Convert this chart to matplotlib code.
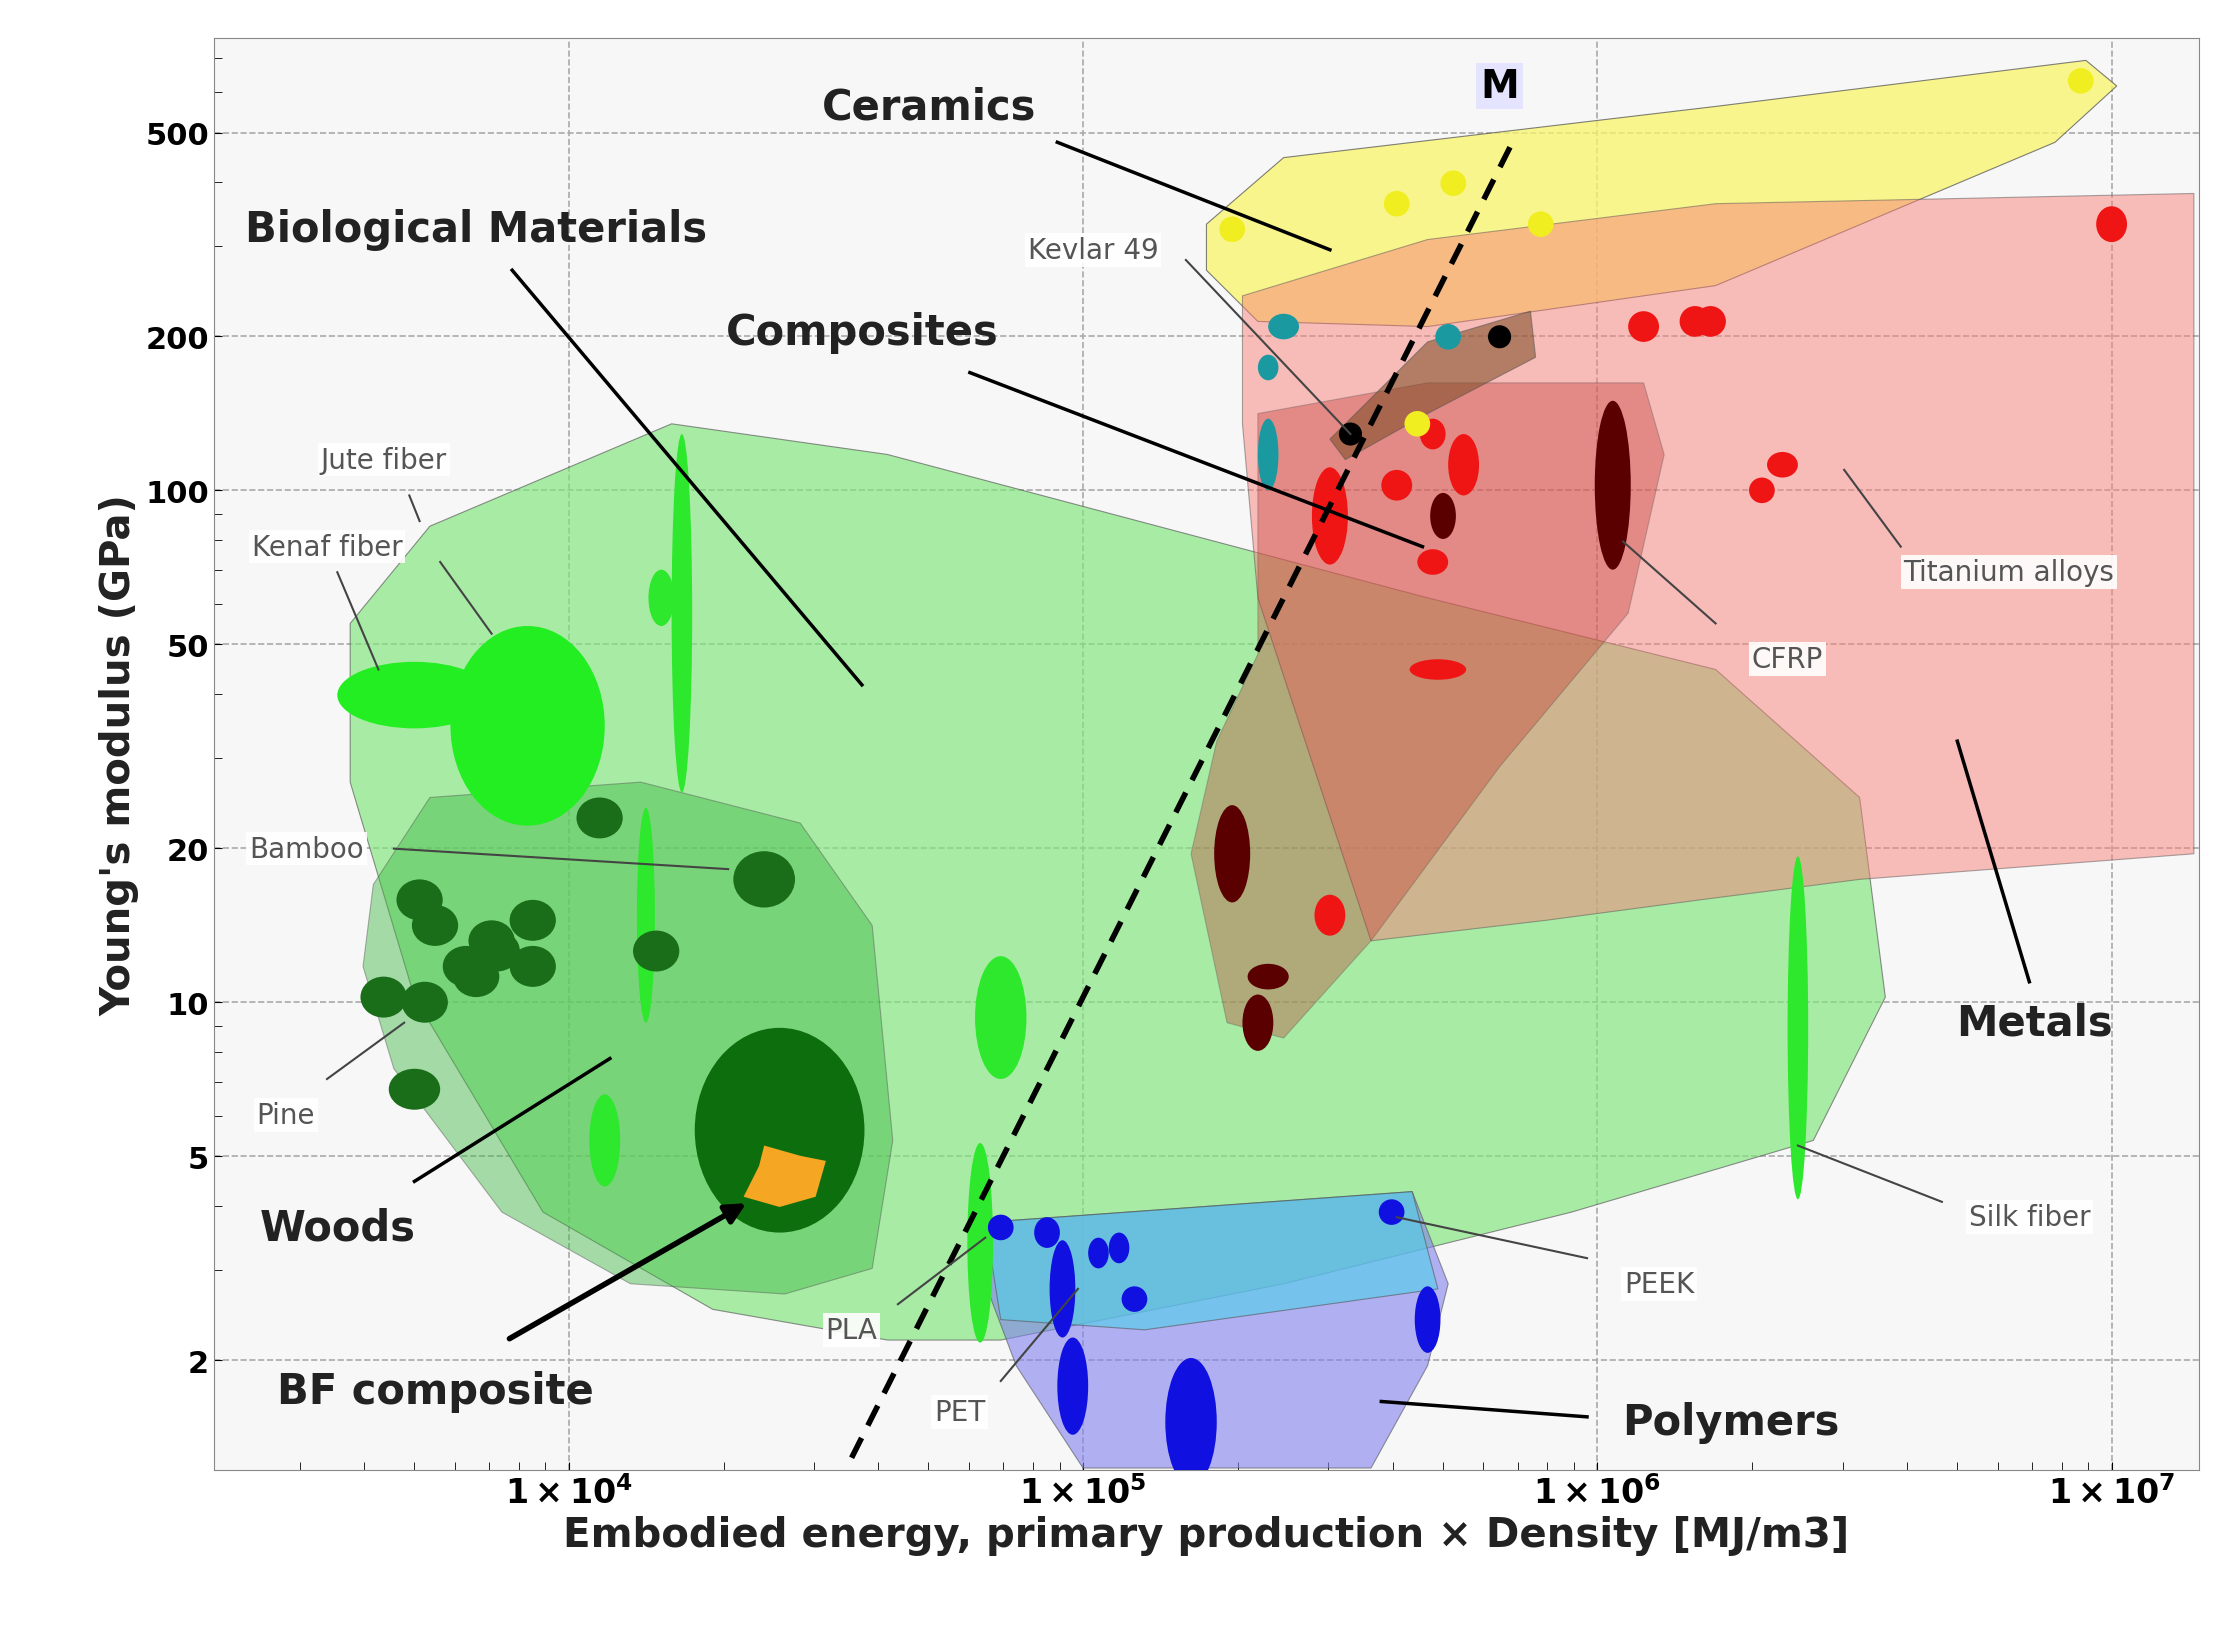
import numpy as np
import matplotlib.pyplot as plt
from matplotlib.patches import Polygon, Ellipse

# all coordinates are log10(energy [MJ/m3]) and log10(modulus [GPa])
regions = {
    "bio": ([3.575, 3.73, 4.20, 4.62, 5.67, 6.23, 6.51, 6.56, 6.42, 5.95, 5.39, 4.84, 4.62, 4.28, 3.95, 3.70, 3.575],
            [1.74, 1.93, 2.13, 2.07, 1.79, 1.65, 1.40, 1.01, 0.73, 0.59, 0.45, 0.34, 0.34, 0.40, 0.59, 1.01, 1.43]),
    "woods": ([3.62, 3.73, 4.14, 4.45, 4.59, 4.63, 4.59, 4.42, 4.12, 3.87, 3.66, 3.60],
              [1.23, 1.40, 1.43, 1.35, 1.15, 0.73, 0.48, 0.43, 0.45, 0.59, 0.87, 1.07]),
    "ceramics": ([5.24, 5.39, 6.23, 6.95, 7.01, 6.89, 6.23, 5.67, 5.34, 5.24],
                 [2.52, 2.65, 2.75, 2.84, 2.79, 2.68, 2.40, 2.32, 2.33, 2.43]),
    "metals": ([5.31, 5.67, 6.23, 7.16, 7.16, 6.51, 6.20, 5.90, 5.56, 5.34, 5.31],
               [2.38, 2.49, 2.56, 2.58, 1.29, 1.24, 1.20, 1.16, 1.12, 1.79, 2.13]),
    "composites": ([5.34, 5.67, 6.09, 6.13, 6.06, 5.81, 5.56, 5.39, 5.28, 5.21, 5.26, 5.34],
                   [2.15, 2.21, 2.21, 2.07, 1.76, 1.46, 1.12, 0.93, 0.96, 1.29, 1.51, 1.68]),
    "kevlar": ([5.48, 5.67, 5.87, 5.88, 5.67, 5.51], [2.10, 2.29, 2.35, 2.26, 2.15, 2.06]),
    "polymers": ([4.81, 5.64, 5.71, 5.67, 5.56, 5.0, 4.87, 4.81],
                 [0.57, 0.63, 0.45, 0.29, 0.09, 0.09, 0.29, 0.45]),
    "polymers_hi": ([4.81, 5.64, 5.69, 5.12, 4.84], [0.57, 0.63, 0.44, 0.36, 0.38]),
    "bf": ([4.38, 4.45, 4.50, 4.48, 4.41, 4.34, 4.37], [0.72, 0.70, 0.69, 0.62, 0.60, 0.62, 0.68]),
}
region_style = {
    "bio": ("#7ee67a", 0.65), "woods": ("#3fb844", 0.45), "ceramics": ("#fbf56a", 0.75),
    "metals": ("#f7807a", 0.5), "composites": ("#c0302a", 0.35),
    "kevlar": ("#7a4a20", 0.55), "polymers": ("#7f80f0", 0.6), "polymers_hi": ("#4fd0e8", 0.6),
    "bf": ("#f5a623", 1.0),
}

# markers: log energy, log modulus, width, height (decades), colour
mk_x = [4.22, 4.18, 4.15, 4.07, 4.84, 4.80, 6.39, 3.70, 3.92,
        3.71, 3.74, 3.64, 3.72, 3.70, 4.06, 4.17, 4.38, 3.80, 3.86, 3.93, 3.93, 3.82, 3.85,
        4.84, 4.93, 4.96, 4.98, 5.21, 5.03, 5.07, 5.10, 5.60, 5.67,
        7.0, 6.09, 6.19, 6.22, 6.36, 6.32, 5.68, 5.74, 5.61, 5.48, 5.68, 5.69, 5.48,
        6.03, 5.70, 5.29, 5.36, 5.34,
        5.39, 5.36, 5.36, 5.71,
        5.29, 5.61, 5.72, 5.89, 6.94, 5.65,
        5.52, 5.81]
mk_y = [1.76, 1.79, 1.17, 0.73, 0.97, 0.53, 0.95, 1.60, 1.54,
        1.20, 1.15, 1.01, 1.00, 0.83, 1.36, 1.10, 1.24, 1.07, 1.10, 1.16, 1.07, 1.05, 1.12,
        0.56, 0.55, 0.44, 0.25, 0.18, 0.51, 0.52, 0.42, 0.59, 0.38,
        2.52, 2.32, 2.33, 2.33, 2.05, 2.00, 2.11, 2.05, 2.01, 1.95, 1.86, 1.65, 1.17,
        2.01, 1.95, 1.29, 1.05, 0.96,
        2.32, 2.24, 2.07, 2.30,
        2.51, 2.56, 2.60, 2.52, 2.80, 2.13,
        2.11, 2.30]
mk_w = [0.04, 0.05, 0.035, 0.06, 0.10, 0.05, 0.04, 0.30, 0.30,
        0.09, 0.09, 0.09, 0.09, 0.10, 0.09, 0.09, 0.12, 0.09, 0.09, 0.09, 0.09, 0.09, 0.09,
        0.05, 0.05, 0.05, 0.06, 0.10, 0.04, 0.04, 0.05, 0.05, 0.05,
        0.06, 0.06, 0.06, 0.06, 0.06, 0.05, 0.05, 0.06, 0.06, 0.07, 0.06, 0.11, 0.06,
        0.07, 0.05, 0.07, 0.08, 0.06,
        0.06, 0.04, 0.04, 0.05,
        0.05, 0.05, 0.05, 0.05, 0.05, 0.05,
        0.045, 0.045]
mk_h = [0.70, 0.11, 0.42, 0.18, 0.24, 0.39, 0.67, 0.13, 0.39,
        0.08, 0.08, 0.08, 0.08, 0.08, 0.08, 0.08, 0.11, 0.08, 0.08, 0.08, 0.08, 0.08, 0.08,
        0.05, 0.06, 0.19, 0.19, 0.25, 0.06, 0.06, 0.05, 0.05, 0.13,
        0.07, 0.06, 0.06, 0.06, 0.05, 0.05, 0.06, 0.12, 0.06, 0.19, 0.05, 0.04, 0.08,
        0.33, 0.09, 0.19, 0.05, 0.11,
        0.05, 0.05, 0.14, 0.05,
        0.05, 0.05, 0.05, 0.05, 0.05, 0.05,
        0.045, 0.045]
mk_c = ["#2ee82e"] * 7 + ["#22ee22"] * 2 + ["#1a6e1a"] * 14 + ["#1010e0"] * 10 + \
       ["#f01515"] * 13 + ["#5a0000"] * 5 + ["#1a9aa0"] * 4 + ["#f0ee20"] * 6 + ["#000000"] * 2

line_x = [4.55, 5.84]
line_y = [0.11, 2.69]

yticks = [2, 5, 10, 20, 50, 100, 200, 500]
xtick_exp = [4, 5, 6, 7]

fig = plt.figure(figsize=(22.28, 16.4), dpi=100)
ax = fig.add_axes([0.096, 0.103, 0.891, 0.873])
ax.set_facecolor("#f7f7f7")
ax.set_xlim(3.31, 7.17)
ax.set_ylim(0.086, 2.883)

for name, (xs, ys) in regions.items():
    if name == "bf":
        continue
    col, a = region_style[name]
    ax.add_patch(Polygon(np.column_stack([xs, ys]), closed=True, fc=col, alpha=a,
                         ec="#555555", lw=0.8, zorder=2))
ax.add_patch(Ellipse((4.41, 0.75), 0.33, 0.40, fc="#0d6e0d", zorder=2.5))
ax.add_patch(Polygon(np.column_stack(regions["bf"]), closed=True, fc="#f5a623", zorder=3))

for x, y, w, h, c in zip(mk_x, mk_y, mk_w, mk_h, mk_c):
    ax.add_patch(Ellipse((x, y), w, h, fc=c, ec="none", zorder=4))

ax.plot(line_x, line_y, ls=(0, (4, 2.5)), color="black", lw=4, zorder=5)
ax.text(5.81, 2.79, "M", fontsize=28, fontweight="bold", ha="center", va="center",
        bbox=dict(fc="#e4e4ff", ec="none", pad=3), zorder=6)

big = [("Ceramics", 4.70, 2.75, 4.95, 2.68, 5.48, 2.47),
       ("Biological Materials", 3.82, 2.51, 3.89, 2.43, 4.57, 1.62),
       ("Composites", 4.57, 2.31, 4.78, 2.23, 5.66, 1.89),
       ("Woods", 3.55, 0.56, 3.70, 0.65, 4.08, 0.89),
       ("Polymers", 6.26, 0.18, 5.98, 0.19, 5.58, 0.22),
       ("Metals", 6.85, 0.96, 6.84, 1.04, 6.70, 1.51)]
for t, tx, ty, x0, y0, x1, y1 in big:
    ax.plot([x0, x1], [y0, y1], color="black", lw=2.5, zorder=6)
    ax.text(tx, ty, t, fontsize=30, fontweight="bold", ha="center", va="center",
            color="#222222", zorder=7)
ax.text(3.74, 0.24, "BF composite", fontsize=30, fontweight="bold", ha="center",
        va="center", color="#222222", zorder=7)
ax.annotate("", xy=(4.35, 0.61), xytext=(3.88, 0.34), zorder=7,
            arrowprops=dict(arrowstyle="-|>,head_width=0.6,head_length=1.2", lw=4, color="black"))

small = [("Kevlar 49", 5.02, 2.47, 5.20, 2.45, 5.52, 2.11),
         ("Jute fiber", 3.64, 2.06, 3.69, 1.99, 3.71, 1.94),
         ("Kenaf fiber", 3.53, 1.89, 3.55, 1.84, 3.63, 1.65),
         ("Bamboo", 3.49, 1.30, 3.66, 1.30, 4.31, 1.26),
         ("Pine", 3.45, 0.78, 3.53, 0.85, 3.68, 0.96),
         ("PLA", 4.55, 0.36, 4.64, 0.41, 4.81, 0.54),
         ("PET", 4.76, 0.20, 4.84, 0.26, 4.99, 0.44),
         ("PEEK", 6.12, 0.45, 5.98, 0.50, 5.61, 0.58),
         ("Silk fiber", 6.84, 0.58, 6.67, 0.61, 6.39, 0.72),
         ("CFRP", 6.37, 1.67, 6.23, 1.74, 6.05, 1.90),
         ("Titanium alloys", 6.80, 1.84, 6.59, 1.89, 6.48, 2.04)]
for t, tx, ty, x0, y0, x1, y1 in small:
    ax.plot([x0, x1], [y0, y1], color="#444444", lw=1.5, zorder=6)
    ax.text(tx, ty, t, fontsize=20, ha="center", va="center", color="#555555", zorder=7,
            bbox=dict(fc="white", ec="none", pad=2, alpha=0.9))
ax.plot([3.75, 3.85], [1.86, 1.72], color="#444444", lw=1.5, zorder=6)

ax.set_yticks(np.log10(yticks))
ax.set_yticklabels([str(v) for v in yticks], fontsize=22, fontweight="bold")
minor_y = [np.log10(m * 10 ** e) for e in range(0, 3) for m in range(2, 10)]
ax.set_yticks([m for m in minor_y if 0.086 < m < 2.883], minor=True)
ax.set_xticks(xtick_exp)
ax.set_xticklabels([r"$\mathbf{1\times10^{%d}}$" % e for e in xtick_exp], fontsize=24,
                   fontfamily="serif")
minor_x = [np.log10(m * 10 ** e) for e in range(3, 8) for m in range(2, 10)]
ax.set_xticks([m for m in minor_x if 3.31 < m < 7.17], minor=True)
ax.tick_params(which="both", direction="in", length=6)
ax.grid(True, which="major", ls="--", color="#aaaaaa", lw=1.2, zorder=1)
ax.set_axisbelow(True)
ax.set_xlabel("Embodied energy, primary production × Density [MJ/m3]", fontsize=29,
              fontweight="bold", labelpad=4, color="#222222")
ax.set_ylabel("Young's modulus (GPa)", fontsize=29, fontweight="bold", color="#222222")
for s in ax.spines.values():
    s.set_color("#888888")

fig.savefig("out.png", dpi=100)
